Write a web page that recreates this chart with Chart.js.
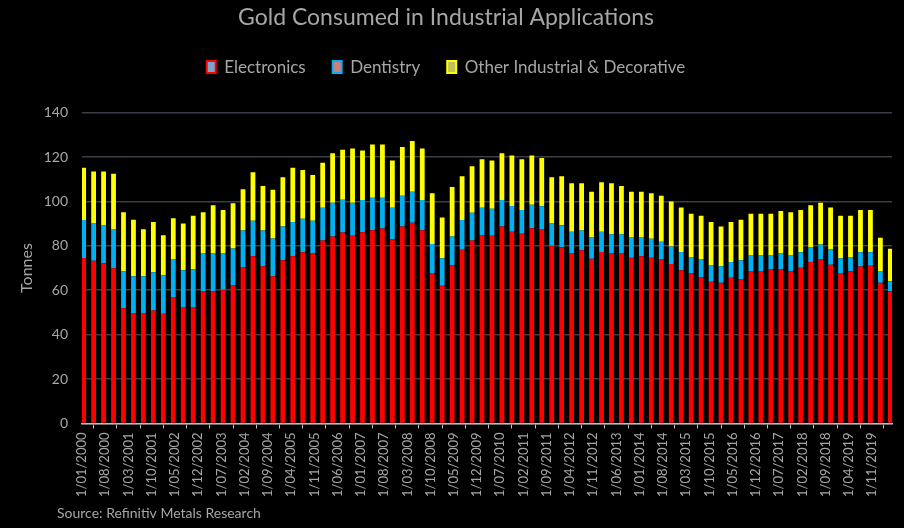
<!DOCTYPE html>
<html>
<head>
<meta charset="utf-8">
<script src="https://cdn.jsdelivr.net/npm/chart.js@4"></script>
<style>
  html, body { margin: 0; padding: 0; background: #000; }
  #wrap { width: 904px; height: 528px; }
</style>
</head>
<body>
<div id="wrap"><canvas id="chart" width="904" height="528"></canvas></div>
<script>
// Quarterly gold demand, tonnes (Q1 2000 .. Q2 2020)
const electronics = [74.5, 73.3, 72.1, 69.9, 51.9, 49.8, 49.8, 50.9, 49.4, 57.0,
  52.5, 52.5, 59.6, 59.6, 60.2, 62.3, 70.4, 75.3, 70.8, 66.3,
  73.5, 75.3, 77.1, 76.6, 82.4, 84.2, 86.0, 84.5, 86.1, 87.0,
  87.8, 83.0, 88.7, 90.4, 87.0, 67.8, 62.0, 71.1, 78.2, 82.4,
  84.9, 84.5, 88.7, 86.3, 85.4, 87.9, 87.6, 80.0, 79.4, 76.8,
  78.0, 74.2, 77.2, 76.5, 76.8, 74.6, 75.3, 74.6, 74.1, 71.8,
  69.0, 67.5, 65.9, 63.8, 63.4, 65.6, 65.1, 68.7, 68.7, 69.3,
  69.3, 68.6, 70.1, 72.7, 73.8, 71.5, 67.8, 68.6, 70.7, 71.0,
  63.4, 59.5];
const dentistry = [17.1, 16.8, 17.0, 17.4, 16.7, 16.5, 16.5, 17.2, 17.4, 16.8,
  16.5, 17.0, 17.0, 17.0, 16.4, 16.5, 16.5, 16.0, 16.1, 17.0,
  15.2, 15.4, 15.1, 14.7, 14.7, 15.2, 14.7, 14.9, 14.5, 14.6,
  13.8, 14.1, 13.9, 13.9, 13.6, 13.0, 12.4, 13.1, 13.4, 12.5,
  12.2, 12.2, 11.9, 11.6, 10.7, 10.6, 10.2, 10.1, 9.9, 9.5,
  8.9, 9.6, 9.1, 8.7, 8.4, 9.2, 8.5, 8.6, 7.7, 7.9,
  8.2, 7.3, 7.9, 7.3, 7.4, 7.1, 8.4, 6.9, 6.9, 6.3,
  7.3, 7.0, 7.0, 6.6, 6.8, 6.8, 6.6, 6.2, 6.4, 6.1,
  5.0, 4.5];
const otherIndustrial = [23.6, 23.4, 24.4, 25.2, 26.5, 25.5, 21.2, 22.6, 18.0, 18.6,
  21.1, 24.1, 18.5, 21.7, 19.5, 20.4, 18.6, 21.8, 20.1, 22.0,
  22.2, 24.5, 21.9, 20.6, 20.3, 22.3, 22.6, 24.4, 22.3, 24.0,
  24.0, 21.3, 21.9, 22.9, 23.2, 22.9, 18.4, 22.3, 19.7, 20.9,
  21.9, 21.7, 21.1, 22.8, 22.9, 22.2, 21.7, 20.8, 22.0, 21.9,
  21.3, 20.5, 22.3, 23.0, 21.8, 20.5, 20.5, 20.5, 20.8, 20.3,
  20.1, 19.7, 19.8, 19.6, 17.9, 18.0, 18.3, 18.9, 18.9, 18.9,
  19.1, 19.5, 19.0, 19.0, 18.8, 19.0, 19.2, 18.8, 19.0, 19.0,
  15.2, 14.7];

// x axis date labels (day/month/year)
const tickLabels = ['1/01/2000', '1/08/2000', '1/03/2001', '1/10/2001', '1/05/2002', '1/12/2002',
  '1/07/2003', '1/02/2004', '1/09/2004', '1/04/2005', '1/11/2005', '1/06/2006', '1/01/2007',
  '1/08/2007', '1/03/2008', '1/10/2008', '1/05/2009', '1/12/2009', '1/07/2010', '1/02/2011',
  '1/09/2011', '1/04/2012', '1/11/2012', '1/06/2013', '1/01/2014', '1/08/2014', '1/03/2015',
  '1/10/2015', '1/05/2016', '1/12/2016', '1/07/2017', '1/02/2018', '1/09/2018', '1/04/2019',
  '1/11/2019'];

// months since Jan 2000
function monthIndex(label) {
  const p = label.split('/');
  return (parseInt(p[2]) - 2000) * 12 + parseInt(p[1]) - 1;
}
const tickMonths = tickLabels.map(monthIndex);

// quarter start dates, bar sits in the middle of its month slot
const quarters = [];
for (let y = 2000; y <= 2020; y++) {
  for (const m of ['01', '04', '07', '10']) {
    if (quarters.length < electronics.length) quarters.push('1/' + m + '/' + y);
  }
}
const barPos = quarters.map(q => monthIndex(q) + 0.5);

const textGrey = '#a6a6a6';
const font = 'Lato';
const legendFill = ['#7ba6cc', '#d27c7c', '#c2c25c'];
const legendEdge = ['#ff0000', '#00b0f0', '#ffff00'];

const sourceNote = {
  id: 'sourceNote',
  afterDraw(chart) {
    const c = chart.ctx;
    c.save();
    c.font = '14px ' + font;
    c.fillStyle = textGrey;
    c.textBaseline = 'middle';
    c.fillText('Source: Refinitiv Metals Research', 57, 513);
    c.restore();
  }
};

// extra gap under the legend
const legendGap = {
  id: 'legendGap',
  beforeInit(chart) {
    const fit = chart.legend.fit;
    chart.legend.fit = function () {
      fit.call(this);
      this.height += 27;
    };
  }
};

const bar = { categoryPercentage: 1, barPercentage: 0.48, borderWidth: 0 };

new Chart(document.getElementById('chart'), {
  type: 'bar',
  data: {
    labels: barPos,
    datasets: [
      { label: 'Electronics', data: electronics, backgroundColor: '#ff0000', ...bar },
      { label: 'Dentistry', data: dentistry, backgroundColor: '#00b0f0', ...bar },
      { label: 'Other Industrial & Decorative', data: otherIndustrial, backgroundColor: '#ffff00', ...bar }
    ]
  },
  options: {
    responsive: false,
    animation: false,
    layout: { padding: { left: 0, right: 12, top: 0, bottom: 27 } },
    plugins: {
      title: {
        display: true,
        text: 'Gold Consumed in Industrial Applications',
        color: textGrey,
        font: { family: font, size: 23, weight: 'normal' },
        padding: { top: 4, bottom: 0 }
      },
      legend: {
        display: true,
        labels: {
          color: textGrey,
          font: { family: font, size: 17 },
          boxWidth: 9,
          boxHeight: 12,
          padding: 27,
          generateLabels(chart) {
            const items = Chart.defaults.plugins.legend.labels.generateLabels(chart);
            items.forEach((it, i) => {
              it.fillStyle = legendFill[i];
              it.strokeStyle = legendEdge[i];
              it.lineWidth = 2;
            });
            return items;
          }
        }
      },
      tooltip: { enabled: false }
    },
    scales: {
      x: {
        type: 'linear',
        stacked: true,
        min: 0,
        max: 244,
        offset: false,
        afterBuildTicks: s => { s.ticks = tickMonths.map(v => ({ value: v })); },
        ticks: {
          color: textGrey,
          font: { family: font, size: 13 },
          maxRotation: 90,
          minRotation: 90,
          autoSkip: false,
          padding: 4,
          callback: v => tickLabels[tickMonths.indexOf(v)]
        },
        grid: { drawOnChartArea: false, drawTicks: true, tickLength: 5, tickColor: '#bfbfbf' },
        border: { color: '#bfbfbf', width: 1.5 }
      },
      y: {
        stacked: true,
        min: 0,
        max: 140,
        afterFit: s => { s.width = 82; },
        ticks: {
          stepSize: 20,
          color: textGrey,
          font: { family: font, size: 14 },
          padding: 14
        },
        grid: { color: '#3a3f47', lineWidth: 1.5, drawTicks: false },
        border: { display: false },
        title: {
          display: true,
          text: 'Tonnes',
          color: textGrey,
          font: { family: font, size: 16 },
          padding: { top: 17, bottom: 0 }
        }
      }
    }
  },
  plugins: [sourceNote, legendGap]
});
</script>
</body>
</html>
